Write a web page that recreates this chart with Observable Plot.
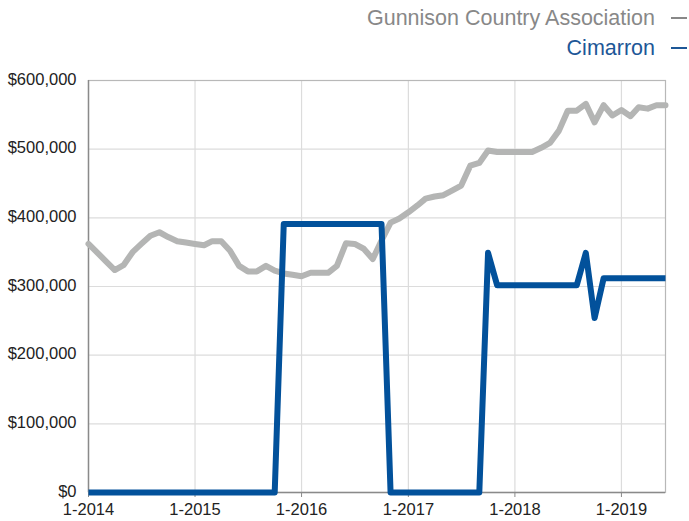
<!DOCTYPE html>
<html>
<head>
<meta charset="utf-8">
<script src="https://cdn.jsdelivr.net/npm/d3@7"></script>
<script src="https://cdn.jsdelivr.net/npm/@observablehq/plot@0.6"></script>
<style>
  html, body { margin: 0; padding: 0; background: #fff; }
  body { width: 689px; height: 521px; overflow: hidden; font-family: "Liberation Sans", Arial, Helvetica, sans-serif; }
  #legend { height: 62px; box-sizing: border-box; padding-top: 3px; padding-right: 2px; }
  .row { display: flex; justify-content: flex-end; align-items: center; height: 30px; font-size: 21.5px; }
  .dash { display: inline-block; width: 16px; height: 2px; margin-left: 16px; }
</style>
</head>
<body>
<div id="legend"></div>
<div id="chart"></div>
<script>
// ---- data ----
const startMonth = "2014-01-01";
const seriesNames = ["Gunnison Country Association", "Cimarron"];
const seriesColors = ["#b4b5b4", "#02519b"];
const legendTextColors = ["#888888", "#1d5797"];
// monthly values Jan 2014 .. Jun 2019 (thousands of dollars)
const gunnison = [
  362, 349, 337, 324, 331, 350, 362, 374, 379, 372,
  366, 364, 362, 360, 366, 366, 352, 330, 322, 322,
  330, 323, 319, 317, 315, 320, 320, 320, 330, 363,
  362, 355, 340, 367, 393, 399, 408, 418, 428, 431,
  433, 440, 447, 476, 480, 498, 496, 496, 496, 496,
  496, 502, 509, 527, 556, 556, 566, 539, 564, 549,
  557, 548, 561, 559, 564, 564
];
const cimarron = [
  0, 0, 0, 0, 0, 0, 0, 0, 0, 0, 0, 0,
  0, 0, 0, 0, 0, 0, 0, 0, 0, 0,
  391, 391, 391, 391, 391, 391, 391, 391, 391, 391, 391, 391,
  0, 0, 0, 0, 0, 0, 0, 0, 0, 0, 0,
  349,
  302, 302, 302, 302, 302, 302, 302, 302, 302, 302,
  349, 254,
  312, 312, 312, 312, 312, 312, 312, 312
];
const yTicks = [0, 100000, 200000, 300000, 400000, 500000, 600000];
const xTickYears = [2014, 2015, 2016, 2017, 2018, 2019];
const xDomainEnd = "2019-06-01";

// ---- build table ----
const start = new Date(startMonth);
const rows = [];
[gunnison, cimarron].forEach((vals, si) => {
  vals.forEach((v, i) => {
    rows.push({series: seriesNames[si], date: d3.utcMonth.offset(start, i), value: v * 1000});
  });
});
const xTicks = xTickYears.map(y => new Date(Date.UTC(y, 0, 1)));

// ---- legend ----
const legend = document.getElementById("legend");
seriesNames.forEach((n, i) => {
  const r = document.createElement("div");
  r.className = "row";
  r.style.color = legendTextColors[i];
  const t = document.createElement("span");
  t.textContent = n;
  const d = document.createElement("span");
  d.className = "dash";
  d.style.background = legendTextColors[i];
  r.appendChild(t); r.appendChild(d);
  legend.appendChild(r);
});

// ---- chart ----
const chart = Plot.plot({
  width: 689,
  height: 459,
  marginTop: 18,
  marginBottom: 29,
  marginLeft: 88,
  marginRight: 24,
  style: {fontFamily: "'Liberation Sans', Arial, Helvetica, sans-serif", fontSize: "16.5px", color: "#222", background: "#fff"},
  x: {type: "utc", domain: [start, new Date(xDomainEnd)]},
  y: {domain: [0, 600000]},
  marks: [
    Plot.gridY(yTicks, {stroke: "#dcdcdc", strokeOpacity: 1, strokeWidth: 1.2}),
    Plot.gridX(xTicks, {stroke: "#dcdcdc", strokeOpacity: 1, strokeWidth: 1.2}),
    Plot.frame({stroke: "#b8b8b8", strokeWidth: 1.2}),
    Plot.ruleY([0], {stroke: "#8a8a8a", strokeWidth: 1.4}),
    Plot.ruleX([start], {stroke: "#8a8a8a", strokeWidth: 1.4}),
    Plot.axisY(yTicks, {tickSize: 0, tickPadding: 12, tickFormat: d3.format("$,"), label: null, fontSize: 16.5, dy: -1}),
    Plot.axisX(xTicks, {tickSize: 5, tickPadding: 6, tickFormat: d3.utcFormat("%-m-%Y"), label: null, stroke: "#8a8a8a", fontSize: 16.5}),
    Plot.line(rows.filter(d => d.series === seriesNames[0]), {x: "date", y: "value", stroke: seriesColors[0], strokeWidth: 6, strokeLinejoin: "round", strokeLinecap: "round"}),
    Plot.line(rows.filter(d => d.series === seriesNames[1]), {x: "date", y: "value", stroke: seriesColors[1], strokeWidth: 6, strokeLinejoin: "round", strokeLinecap: "butt"})
  ]
});
document.getElementById("chart").appendChild(chart);
</script>
</body>
</html>
